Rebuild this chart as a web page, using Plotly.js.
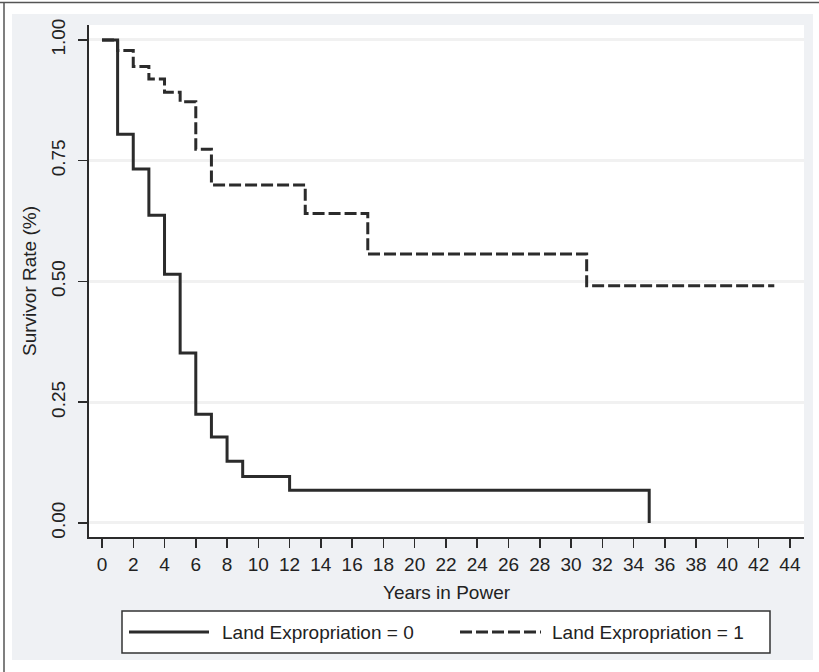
<!DOCTYPE html>
<html>
<head>
<meta charset="utf-8">
<script src="https://cdn.plot.ly/plotly-3.0.1.min.js"></script>
<style>
  html, body { margin: 0; padding: 0; background: #ffffff; }
  #chart { width: 819px; height: 672px; }
</style>
</head>
<body>
<div id="chart"></div>
<script>
// ---- Data ----
const seriesNames = ["Land Expropriation = 0", "Land Expropriation = 1"];

// Land Expropriation = 0 (solid)
const yearsNoExprop = [0, 1, 2, 3, 4, 5, 6, 7, 8, 9, 12, 35];
const survivalNoExprop = [1.000, 0.805, 0.733, 0.637, 0.515, 0.352, 0.225, 0.178, 0.128, 0.096, 0.068, 0.000];

// Land Expropriation = 1 (dashed)
const yearsExprop = [0, 1, 2, 3, 4, 5, 6, 7, 13, 17, 31, 43];
const survivalExprop = [1.000, 0.978, 0.945, 0.919, 0.892, 0.872, 0.774, 0.700, 0.641, 0.557, 0.491, 0.491];

// Axis ticks
const xTickVals = [0, 2, 4, 6, 8, 10, 12, 14, 16, 18, 20, 22, 24, 26, 28, 30, 32, 34, 36, 38, 40, 42, 44];
const yTickVals = [0, 0.25, 0.5, 0.75, 1];
const yTickText = ["0.00", "0.25", "0.50", "0.75", "1.00"];

const xTitle = "Years in Power";
const yTitle = "Survivor Rate (%)";

// ---- Layout geometry (pixels) ----
const W = 819, H = 672;
const M = { l: 89, r: 15, t: 25, b: 135 };
const plotW = W - M.l - M.r;
const plotH = H - M.t - M.b;
const px2x = px => (px - M.l) / plotW;
const py2y = py => (H - M.b - py) / plotH;

const ink = "#2b2b2b";
const textColor = "#222222";
const fontFamily = "Liberation Sans, Arial, Helvetica, sans-serif";
const fs = 19;
const panel = "#eff1f4";

const traces = [
  {
    x: yearsExprop, y: survivalExprop, name: seriesNames[1],
    type: "scatter", mode: "lines",
    line: { shape: "hv", color: ink, width: 3, dash: "12px,4px" },
    showlegend: false, hoverinfo: "x+y"
  },
  {
    x: yearsNoExprop, y: survivalNoExprop, name: seriesNames[0],
    type: "scatter", mode: "lines",
    line: { shape: "hv", color: ink, width: 3 },
    showlegend: false, hoverinfo: "x+y"
  }
];

function rectPx(x0, y0, x1, y1, fill, lineColor, lineWidth) {
  return {
    type: "rect", xref: "paper", yref: "paper", layer: "above",
    x0: px2x(x0), x1: px2x(x1), y0: py2y(y0), y1: py2y(y1),
    fillcolor: fill, line: { color: lineColor || fill, width: lineWidth || 0 }
  };
}
function linePx(x0, y0, x1, y1, color, width, dash) {
  return {
    type: "line", xref: "paper", yref: "paper", layer: "above",
    x0: px2x(x0), x1: px2x(x1), y0: py2y(y0), y1: py2y(y1),
    line: { color: color, width: width, dash: dash || "solid" }
  };
}

const shapes = [
  // white surround outside the grey graph region
  rectPx(0, 0, W, 14, "#ffffff"),
  rectPx(0, 0, 12, H, "#ffffff"),
  rectPx(813, 0, W, H, "#ffffff"),
  rectPx(0, 660, W, H, "#ffffff"),
  // outer frame lines (top and left)
  linePx(0, 2.5, W, 2.5, "#555555", 1.5),
  linePx(4, 2.5, 4, H, "#555555", 1.5),
  // legend box
  rectPx(122, 611, 770, 653, "#ffffff", "#333333", 1.5),
  // legend samples
  linePx(129, 632, 209, 632, ink, 3),
  linePx(460, 632, 541, 632, ink, 3, "12px,4px")
];

const annotations = [
  {
    xref: "paper", yref: "paper", x: px2x(220), y: py2y(632),
    xanchor: "left", yanchor: "middle", showarrow: false,
    text: seriesNames[0], font: { family: fontFamily, size: fs, color: textColor }
  },
  {
    xref: "paper", yref: "paper", x: px2x(550), y: py2y(632),
    xanchor: "left", yanchor: "middle", showarrow: false,
    text: seriesNames[1], font: { family: fontFamily, size: fs, color: textColor }
  }
];

const layout = {
  width: W, height: H,
  margin: M,
  paper_bgcolor: panel,
  plot_bgcolor: "#ffffff",
  font: { family: fontFamily, size: fs, color: textColor },
  showlegend: false,
  xaxis: {
    range: [-0.83, 44.9],
    tickmode: "array", tickvals: xTickVals,
    ticks: "outside", ticklen: 9, tickwidth: 1.5, tickcolor: ink,
    showline: true, linecolor: ink, linewidth: 2,
    showgrid: false, zeroline: false,
    tickfont: { family: fontFamily, size: fs, color: textColor },
    title: { text: xTitle, font: { family: fontFamily, size: fs, color: textColor }, standoff: 12 }
  },
  yaxis: {
    range: [-0.029, 1.031],
    tickmode: "array", tickvals: yTickVals, ticktext: yTickText,
    tickangle: -90,
    ticks: "outside", ticklen: 9, tickwidth: 1.5, tickcolor: ink,
    ticklabelstandoff: 5,
    showline: true, linecolor: ink, linewidth: 2,
    showgrid: true, gridcolor: "#f1f1f1", gridwidth: 3,
    zeroline: false,
    tickfont: { family: fontFamily, size: fs, color: textColor },
    title: { text: yTitle, font: { family: fontFamily, size: fs, color: textColor }, standoff: 7 }
  },
  shapes: shapes,
  annotations: annotations
};

Plotly.newPlot("chart", traces, layout, { displayModeBar: false, staticPlot: true });
</script>
</body>
</html>
